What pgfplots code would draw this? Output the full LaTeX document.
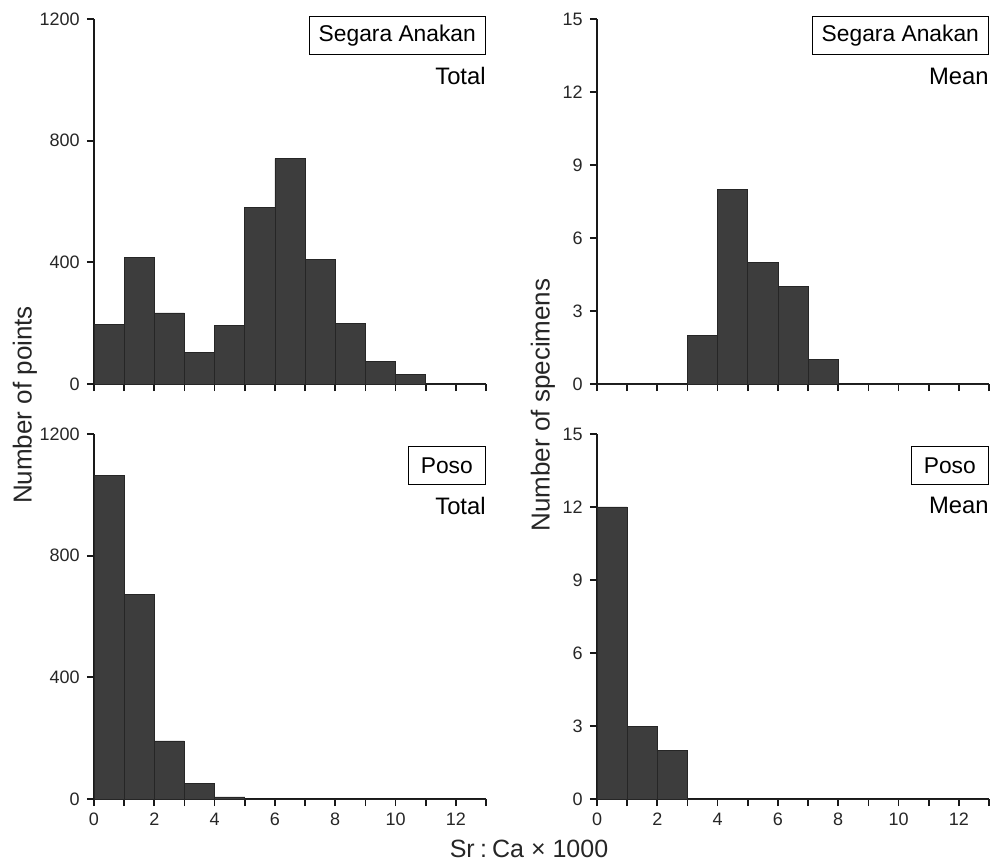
\documentclass[border=0pt]{standalone}
\usepackage{fontspec}
\setmainfont{Liberation Sans}
\usepackage{pgfplots}
\pgfplotsset{compat=1.18}
\definecolor{barfill}{HTML}{3D3D3D}
\definecolor{baredge}{HTML}{262626}
\pgfplotsset{
  hist/.style={
    scale only axis, width=196pt, height=182.5pt,
    axis x line=bottom, axis y line=left,
    axis line style={-, line width=0.85pt, black!90},
    tick style={line width=0.85pt, black!90},
    tick align=outside, major tick length=3.6pt,
    xmin=0, xmax=13, ymin=0,
    xtick={0,...,13},
    /pgf/number format/assume math mode=true,
    /pgf/number format/1000 sep={},
    every tick label/.style={font=\fontsize{9}{10}\selectfont, text=black!85},
    clip=false,
  },
  lefty/.style={ymax=1200, ytick={0,400,800,1200}},
  righty/.style={ymax=15, ytick={0,3,6,9,12,15}},
  topx/.style={xticklabels={}},
  botx/.style={xticklabels={0,,2,,4,,6,,8,,10,,12,}},
}
\tikzset{
  bars/.style={ybar interval, fill=barfill, draw=baredge, line width=0.3pt},
  site/.style={draw=black, line width=0.7pt, inner sep=0pt, minimum height=19pt,
    font=\fontsize{11.4}{13}\selectfont, anchor=north east},
  kind/.style={inner sep=0pt, anchor=east, font=\fontsize{11.9}{13}\selectfont},
}

\begin{document}
\begin{tikzpicture}
\useasboundingbox (0,0) rectangle (502pt,430.5pt);

% Segara Anakan, all points
\begin{axis}[hist, lefty, topx, at={(47pt,238.5pt)}, anchor=south west]
\addplot[bars] coordinates {
(0,197) (1,415) (2,234) (3,105) (4,193) (5,581) (6,741)
(7,410) (8,198) (9,73) (10,32) (11,0) (12,0) (13,0)
};
\node[site, minimum width=88pt] at (rel axis cs:1,1.008) {Segara Anakan};
\node[kind] at (rel axis cs:1,0.844) {Total};
\end{axis}

% Segara Anakan, specimen means
\begin{axis}[hist, righty, topx, at={(298.5pt,238.5pt)}, anchor=south west]
\addplot[bars] coordinates {
(0,0) (1,0) (2,0) (3,2) (4,8) (5,5) (6,4)
(7,1) (8,0) (9,0) (10,0) (11,0) (12,0) (13,0)
};
\node[site, minimum width=88pt] at (rel axis cs:1,1.008) {Segara Anakan};
\node[kind] at (rel axis cs:1,0.844) {Mean};
\end{axis}

% Poso, all points
\begin{axis}[hist, lefty, botx, at={(47pt,31pt)}, anchor=south west]
\addplot[bars] coordinates {
(0,1063) (1,673) (2,191) (3,52) (4,7) (5,0) (6,0)
(7,0) (8,0) (9,0) (10,0) (11,0) (12,0) (13,0)
};
\node[site, minimum width=38.5pt] at (rel axis cs:1,0.968) {Poso};
\node[kind] at (rel axis cs:1,0.803) {Total};
\end{axis}

% Poso, specimen means
\begin{axis}[hist, righty, botx, at={(298.5pt,31pt)}, anchor=south west]
\addplot[bars] coordinates {
(0,12) (1,3) (2,2) (3,0) (4,0) (5,0) (6,0)
(7,0) (8,0) (9,0) (10,0) (11,0) (12,0) (13,0)
};
\node[site, minimum width=38.5pt] at (rel axis cs:1,0.968) {Poso};
\node[kind] at (rel axis cs:1,0.803) {Mean};
\end{axis}

% shared labels
\node[rotate=90, font=\fontsize{13}{15}\selectfont, text=black!85] at (12.5pt,228pt) {Number of points};
\node[rotate=90, font=\fontsize{13}{15}\selectfont, text=black!85] at (271.5pt,228pt) {Number of specimens};
\node[font=\fontsize{12.5}{15}\selectfont, text=black!85] at (264.5pt,6pt) {Sr\hspace{2.6pt}:\hspace{2.6pt}Ca × 1000};
\end{tikzpicture}
\end{document}
